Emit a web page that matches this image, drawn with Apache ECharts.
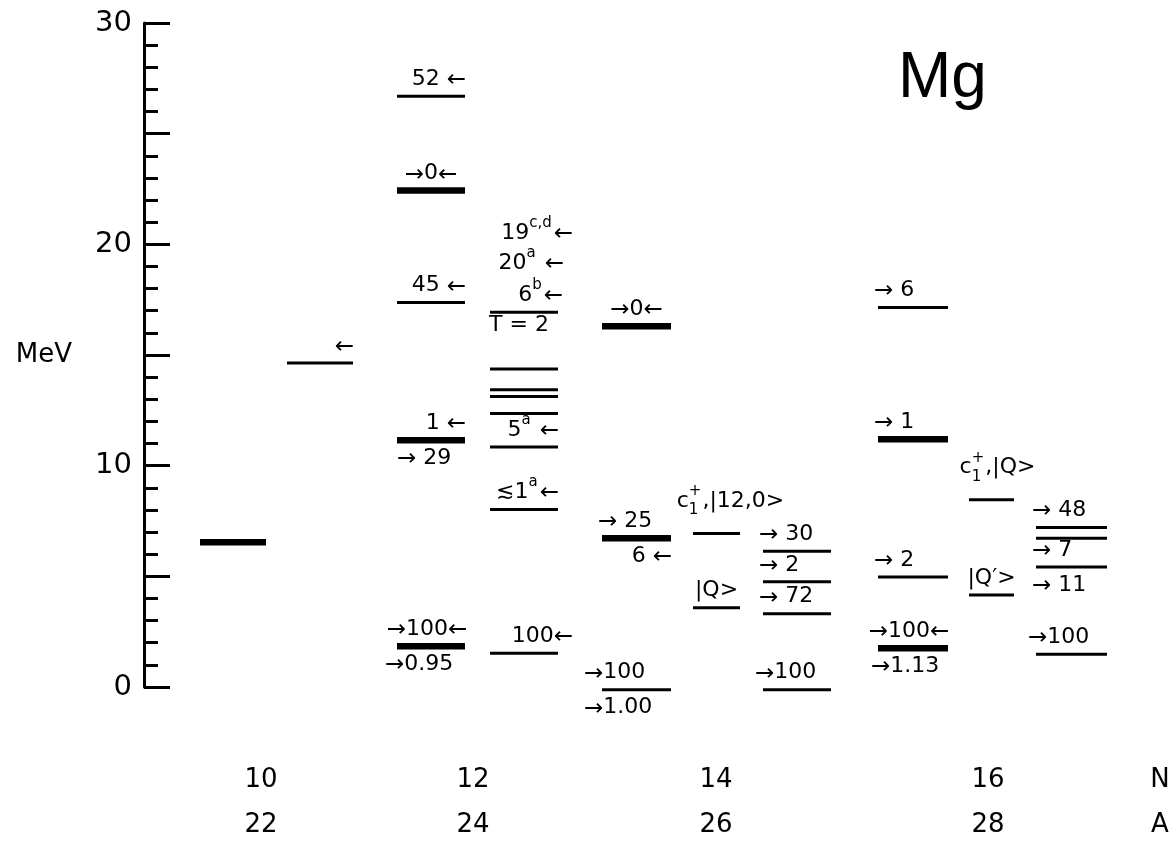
<!DOCTYPE html>
<html><head><meta charset="utf-8">
<script src="https://cdn.jsdelivr.net/npm/echarts@6/dist/echarts.min.js"></script>
<style>html,body{margin:0;padding:0;background:#fff}#c{width:1176px;height:848px}</style>
</head><body><div id="c"></div>
<script>
// ================= DATA =================
const nLabels = ['10', '12', '14', '16', 'N'];
const aLabels = ['22', '24', '26', '28', 'A'];
const yTickLabels = [0, 10, 20, 30];

// level energies (MeV) with line weight
const mg22Levels  = [[6.54, 'thick']];
const mg23Levels  = [[14.64, 'thin']];
const mg24aLevels = [[26.69, 'thin'], [22.43, 'thick'], [17.37, 'thin'], [11.15, 'thick'], [1.84, 'thick']];
const mg24bLevels = [[16.93, 'thin'], [14.37, 'thin'], [13.43, 'thin'], [13.12, 'thin'], [12.36, 'thin'], [10.84, 'thin'], [8.02, 'thin'], [1.52, 'thin']];
const mg26aLevels = [[16.30, 'thick'], [6.72, 'thick'], [-0.12, 'thin']];
const mg26bLevels = [[6.94, 'thin'], [3.58, 'thin']];
const mg26cLevels = [[6.13, 'thin'], [4.75, 'thin'], [3.31, 'thin'], [-0.12, 'thin']];
const mg28aLevels = [[17.15, 'thin'], [11.19, 'thick'], [4.97, 'thin'], [1.75, 'thick']];
const mg28bLevels = [[8.46, 'thin'], [4.16, 'thin']];
const mg28cLevels = [[7.21, 'thin'], [6.72, 'thin'], [5.42, 'thin'], [1.48, 'thin']];

// level annotations: [level energy, text, placement]
const mg22Labels  = [];
const mg23Labels  = [[14.64, '←', 'above']];
const mg24aLabels = [[26.69, '52 ←', 'above'], [22.43, '→0←', 'above'], [17.37, '45 ←', 'above'], [11.15, '1 ←', 'above'], [11.15, '→ 29', 'below'], [1.84, '→100←', 'above'], [1.84, '→0.95', 'below']];
const mg24bLabels = [[16.93, '19^{c,d}←', 'above3'], [16.93, '20^{a} ←', 'above2'], [16.93, '6^{b}←', 'above'], [16.93, 'T = 2', 'under'], [10.84, '5^{a} ←', 'above'], [8.02, '≲1^{a}←', 'above'], [1.52, '100←', 'above']];
const mg26aLabels = [[16.30, '→0←', 'above'], [6.72, '→ 25', 'above'], [6.72, '6 ←', 'below'], [-0.12, '→100', 'above'], [-0.12, '→1.00', 'below']];
const mg26bLabels = [[6.94, 'c_{1}^{+},|12,0>', 'ket'], [3.58, '|Q>', 'above']];
const mg26cLabels = [[6.13, '→ 30', 'above'], [4.75, '→ 2', 'above'], [3.31, '→ 72', 'above'], [-0.12, '→100', 'above']];
const mg28aLabels = [[17.15, '→ 6', 'above'], [11.19, '→ 1', 'above'], [4.97, '→ 2', 'above'], [1.75, '→100←', 'above'], [1.75, '→1.13', 'below']];
const mg28bLabels = [[8.46, 'c_{1}^{+},|Q>', 'ket'], [4.16, '|Q′>', 'above']];
const mg28cLabels = [[7.21, '→ 48', 'above'], [5.42, '→ 7', 'above'], [5.42, '→ 11', 'below'], [1.48, '→100', 'above']];

// ================= LAYOUT =================
const FONT = '"DejaVu Sans", "Liberation Sans", sans-serif';
const TITLE_FONT = '"Liberation Sans", "DejaVu Sans", sans-serif';
const columns = [
  { levels: mg22Levels,  labels: mg22Labels,  span: [200, 266] },
  { levels: mg23Levels,  labels: mg23Labels,  span: [287, 353] },
  { levels: mg24aLevels, labels: mg24aLabels, span: [397, 465] },
  { levels: mg24bLevels, labels: mg24bLabels, span: [490, 558] },
  { levels: mg26aLevels, labels: mg26aLabels, span: [602, 671] },
  { levels: mg26bLevels, labels: mg26bLabels, span: [693, 740] },
  { levels: mg26cLevels, labels: mg26cLabels, span: [763, 831] },
  { levels: mg28aLevels, labels: mg28aLabels, span: [878, 948] },
  { levels: mg28bLevels, labels: mg28bLabels, span: [969, 1014] },
  { levels: mg28cLevels, labels: mg28cLabels, span: [1036, 1107] }
];
const groupLabelX = [261, 473, 716, 988, 1160];
const placeDy = { above: -17, below: 18, above2: -49, above3: -79, under: 13, ket: -32 };
const nudge = {
  '4|→100': -14, '4|→1.00': -14, '3|100←': 14, '3|19^{c,d}←': 14, '3|20^{a} ←': 5, '3|6^{b}←': 4,
  '2|→0.95': -8, '2|→ 29': 4, '5|c_{1}^{+},|12,0>': 14, '8|c_{1}^{+},|Q>': 6, '3|T = 2': -5,
  '6|→100': -4, '9|→100': -4, '7|→100←': -4, '7|→1.13': -3, '2|→100←': -4
};
const SIZE = 22, SMALL = 15, ARR = 23;

// flatten rows
const levelRows = [];
const labelRows = [];
columns.forEach((c, ci) => {
  c.levels.forEach(l => levelRows.push([ci, l[0], l[1] === 'thick' ? 1 : 0]));
  c.labels.forEach(l => labelRows.push({ value: [ci, l[0]], text: l[1], place: l[2] }));
});

const mctx = document.createElement('canvas').getContext('2d');
function tw(t, s) { mctx.font = s + 'px ' + FONT; return mctx.measureText(t).width; }
function parse(s) {
  const segs = []; let i = 0, buf = '';
  const flush = () => { if (buf) { segs.push({ t: buf, k: 'n' }); buf = ''; } };
  while (i < s.length) {
    const ch = s[i];
    if (ch === '^' || ch === '_') {
      flush();
      let t; const j = i + 1;
      if (s[j] === '{') { const e = s.indexOf('}', j); t = s.slice(j + 1, e); i = e + 1; }
      else { t = s[j]; i = j + 1; }
      segs.push({ t, k: ch === '^' ? 'sup' : 'sub' });
    } else if (ch === '→' || ch === '←') {
      flush(); segs.push({ t: ch, k: 'arr' }); i++;
    } else { buf += ch; i++; }
  }
  flush();
  return segs;
}
function txt(t, x, y, s) {
  return { type: 'text', x, y, silent: true,
    style: { text: t, fontSize: s, fontFamily: FONT, fill: '#000', align: 'left', verticalAlign: 'middle', textAlign: 'left', textVerticalAlign: 'middle' } };
}

function renderLevel(params, api) {
  const ci = api.value(0), E = api.value(1), thick = api.value(2);
  const sp = columns[ci].span;
  const p0 = api.coord([sp[0], E]), p1 = api.coord([sp[1], E]);
  return { type: 'line', silent: true,
    shape: { x1: p0[0], y1: p0[1], x2: p1[0], y2: p1[1] },
    style: { stroke: '#000', lineWidth: thick ? 6.5 : 3, lineCap: 'butt' } };
}

function renderLabel(params, api) {
  const row = labelRows[params.dataIndex];
  const ci = api.value(0), E = api.value(1);
  const sp = columns[ci].span;
  const p0 = api.coord([sp[0], E]), p1 = api.coord([sp[1], E]);
  const y = p0[1] + placeDy[row.place];
  const segs = parse(row.text);
  const items = []; let W = 0;
  for (let i = 0; i < segs.length; i++) {
    const sg = segs[i];
    if (sg.k === 'n') { const w = tw(sg.t, SIZE); items.push({ list: [[sg.t, 0, SIZE]], w }); W += w; }
    else if (sg.k === 'arr') { const w = tw(sg.t, ARR); items.push({ list: [[sg.t, 1, ARR]], w }); W += w; }
    else {
      const nx = segs[i + 1];
      const dy = sg.k === 'sup' ? -10 : 9;
      if (nx && (nx.k === 'sup' || nx.k === 'sub') && nx.k !== sg.k) {
        const dy2 = nx.k === 'sup' ? -10 : 9;
        const w = Math.max(tw(sg.t, SMALL), tw(nx.t, SMALL)) + 1;
        items.push({ list: [[sg.t, dy, SMALL], [nx.t, dy2, SMALL]], w }); W += w; i++;
      } else {
        const w = tw(sg.t, SMALL) + 2;
        items.push({ list: [[sg.t, dy, SMALL]], w }); W += w;
      }
    }
  }
  const t = row.text;
  let x0;
  if (t.startsWith('→') && t.endsWith('←')) x0 = (p0[0] + p1[0]) / 2 - W / 2;
  else if (t.startsWith('→')) x0 = p0[0] - 4;
  else if (t.endsWith('←')) x0 = p1[0] + 1 - W;
  else x0 = (p0[0] + p1[0]) / 2 - W / 2;
  x0 += nudge[ci + '|' + t] || 0;
  const children = [];
  let x = x0;
  items.forEach(it => { it.list.forEach(q => children.push(txt(q[0], x, y + q[1], q[2]))); x += it.w; });
  return { type: 'group', children };
}

const chart = echarts.init(document.getElementById('c'), null, { renderer: 'canvas' });
chart.setOption({
  backgroundColor: '#fff',
  animation: false,
  grid: { left: 144, right: 0, top: 23, bottom: 155 },
  xAxis: {
    type: 'value', min: 144, max: 1176,
    axisLine: { show: false }, axisTick: { show: false }, splitLine: { show: false },
    axisLabel: {
      customValues: groupLabelX,
      formatter: v => { const i = groupLabelX.indexOf(v); return i < 0 ? '' : nLabels[i] + '\n' + aLabels[i]; },
      fontSize: 26, lineHeight: 45, color: '#000', margin: 71, fontFamily: FONT
    }
  },
  yAxis: {
    type: 'value', min: 0, max: 30, interval: 5,
    name: 'MeV', nameLocation: 'middle', nameRotate: 0, nameGap: 72,
    nameTextStyle: { fontSize: 26, color: '#000', fontFamily: FONT },
    axisLine: { show: true, lineStyle: { color: '#000', width: 3 } },
    axisTick: { show: true, inside: true, length: 26, lineStyle: { color: '#000', width: 3 } },
    minorTick: { show: true, splitNumber: 5, length: 14, lineStyle: { color: '#000', width: 3 } },
    splitLine: { show: false }, minorSplitLine: { show: false },
    axisLabel: { formatter: v => yTickLabels.includes(v) ? String(v) : '', fontSize: 29, color: '#000', margin: 12, fontFamily: FONT }
  },
  graphic: [{ type: 'text', left: 898, top: 47, silent: true,
    style: { text: 'Mg', fontSize: 64, fontFamily: TITLE_FONT, fill: '#000' } }],
  series: [
    { type: 'custom', name: 'levels', renderItem: renderLevel, data: levelRows, clip: false, silent: true },
    { type: 'custom', name: 'labels', renderItem: renderLabel, data: labelRows.map(r => r.value), clip: false, silent: true }
  ]
});
</script></body></html>
